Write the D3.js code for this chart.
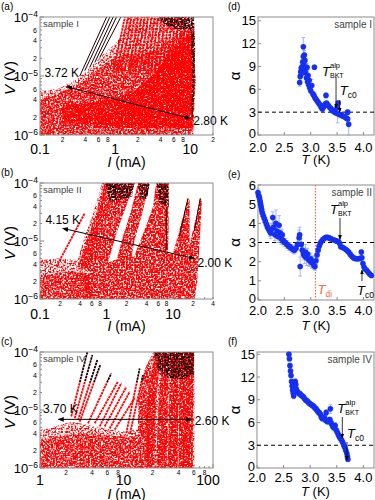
<!DOCTYPE html>
<html>
<head>
<meta charset="utf-8">
<script src="https://cdn.jsdelivr.net/npm/d3@7/dist/d3.min.js"></script>
<style>
body { margin: 0; background: #fff; }
svg { display: block; font-family: "Liberation Sans", Arial, sans-serif; }
</style>
</head>
<body>
<div id="chart"></div>
<script>
// ---------- I-V point clouds, outlines: [I (mA), V (V)] ----------

// (a) sample I
var aSparse = [[[0.1,1e-6],[0.1,5.6e-6],[0.17,6e-6],[0.29,8.3e-6],[0.44,1.3e-5],[0.66,2.2e-5],[0.99,3.5e-5],[1.28,5.2e-5],[1.42,1e-4],[10.9,1e-4],[11.8,8.3e-6],[10.9,1e-6]]];
var aMedium = [[[0.1,1e-6],[0.1,4e-6],[0.3,6.5e-6],[0.5,1.1e-5],[0.8,1.8e-5],[1.3,2.3e-5],[2.5,2.5e-5],[4,3e-5],[6,4.5e-5],[8,6e-5],[10.9,7e-5],[11.5,8e-6],[10.9,1e-6]]];
var aDense = [[[0.2,1.6e-6],[0.2,3.2e-6],[0.5,3.6e-6],[1.0,4.2e-6],[2.0,6e-6],[3.5,1.2e-5],[5,2.2e-5],[7,3.5e-5],[9,5e-5],[10.9,6e-5],[11.3,8e-6],[10.6,1.3e-6],[2,1.3e-6],[0.5,1.5e-6]]];
var aDark = [
  [[3.6,1e-4],[11.2,1e-4],[10.5,6.2e-5],[6.5,6.2e-5],[4.5,7.5e-5]],
  [[9.6,1e-4],[11.2,1e-4],[11.6,3e-5],[11.3,5e-6],[10.7,1.8e-6],[10.3,2.5e-6],[10.6,1e-5],[10.2,5e-5]]
];
// curves: [I start, V start, I end, V end]
var aBlack = [[0.338,1.0e-5,0.77,1e-4],[0.394,1.23e-5,0.85,1e-4],[0.459,1.4e-5,0.94,1e-4],[0.536,1.7e-5,1.04,1e-4],[0.625,2.07e-5,1.19,1e-4]];
var aRed = [[0.94,1.2e-5,1.35,1e-4],[1.05,1.2e-5,1.49,1e-4],[1.19,1.2e-5,1.65,1e-4],[1.33,1.2e-5,1.83,1e-4],[1.51,1.2e-5,2.03,1e-4],
  [1.69,1.2e-5,2.24,1e-4],[1.89,1.2e-5,2.49,1e-4],[2.13,1.2e-5,2.75,1e-4],[2.39,1.2e-5,3.05,1e-4],[2.7,1.2e-5,3.38,1e-4],
  [3.02,1.2e-5,3.74,1e-4],[3.38,1.2e-5,4.15,1e-4],[3.82,1.2e-5,4.6,1e-4],[4.27,1.2e-5,5.09,1e-4],[4.83,1.2e-5,5.63,1e-4],
  [5.41,1.2e-5,6.25,1e-4],[6.06,1.2e-5,6.92,1e-4],[6.85,1.2e-5,7.66,1e-4],[7.66,1.2e-5,8.5,1e-4]];
var aArrow = [[10,1.9e-6],[0.227,6.6e-6]];
var aTemps = ['2.80 K', '3.72 K'];

// (b) sample II
var bSparse = [
  [[0.1,1e-6],[0.1,4.7e-6],[0.187,5e-6],[0.373,4.7e-6],[0.527,4.1e-6],[0.6,1e-6]],
  [[0.33,3e-6],[0.47,1.2e-5],[0.64,3.2e-5],[0.86,1e-4],[1.1,1e-4],[0.8,2e-5],[0.6,4e-6]]
];
var bMedium = [
  [[0.1,1e-6],[0.1,2.5e-6],[0.3,3e-6],[0.5,2.8e-6],[0.6,1e-6]]
];
var bDense = [
  [[0.47,1e-6],[0.47,2.4e-6],[0.745,3.6e-6],[1.33,4.7e-6],[2.65,5.4e-6],[5.3,5.7e-6],[9.4,6.1e-6],[15,5.4e-6],[21.2,4.7e-6],[23.2,2.1e-6],[21.2,1e-6]],
  [[0.373,3.6e-6],[0.527,1.19e-5],[0.703,3e-5],[0.938,1e-4],[2.65,1e-4],[1.88,3.4e-5],[1.41,1.36e-5],[1.12,5.4e-6],[0.9,2.4e-6]],
  [[1.33,3.6e-6],[1.77,1.19e-5],[2.36,3.4e-5],[2.98,1e-4],[4.46,1e-4],[3.34,2.6e-5],[2.65,1.04e-5],[2.36,5e-6]],
  [[2.36,4.1e-6],[3.75,1.55e-5],[5.0,3.9e-5],[5.6,1e-4],[8.6,1e-4],[8.6,1.55e-5],[8.4,5.4e-6]],
  [[9.4,4.7e-6],[16.8,5.45e-5],[17.8,5.1e-5],[17.8,4.1e-6]],
  [[15,3.6e-6],[25.7,5.45e-5],[27.3,5e-5],[23.2,1.86e-6]]
];
var bDark = [
  [[0.938,1e-4],[2.65,1e-4],[2.42,5.8e-5],[1.12,4.8e-5]],
  [[2.98,1e-4],[4.46,1e-4],[4.11,5.45e-5],[3.27,5.1e-5]],
  [[5.7,1e-4],[8.6,1e-4],[8.6,3.9e-5],[6.3,4.5e-5]]
];
var bRed = [[0.176,3.6e-6,0.47,3e-5]];
var bBlack = [[7.94,3.9e-5,7.94,7e-6],[16.8,5.45e-5,12.5,1.2e-5],[25.7,5.45e-5,21,1.5e-5]];
var bArrow = [[21.1,5e-6],[0.22,1.65e-5]];
var bTemps = ['2.00 K', '4.15 K'];

// (c) sample IV
var cSparse = [[[1,1e-6],[1,4.5e-6],[1.48,5.2e-6],[2.3,6.3e-6],[3.59,5.5e-6],[8.7,4.2e-6],[13.6,4.6e-6],[13.6,1.49e-5],[16.2,4.9e-5],[20.3,1e-4],[61,1e-4],[61,1e-6]]];
var cMedium = [
  [[1,1e-6],[1,3e-6],[3,4e-6],[8,3.5e-6],[14,3.5e-6],[14,1e-6]],
  [[13.6,1e-6],[13.6,1.5e-5],[16.2,4.9e-5],[19,8e-5],[18,1e-6]]
];
var cDense = [
  [[17,1e-6],[17,1.2e-5],[21,1e-4],[25,1e-4],[22,1.5e-5],[21,1e-6]],
  [[22,1e-6],[23.5,1.5e-5],[26.5,1e-4],[31,1e-4],[29,1e-6]],
  [[30,1e-6],[32,1e-4],[40,1e-4],[39,1e-6]],
  [[40,1e-6],[41,1e-4],[60,1e-4],[58,1e-6]]
];
var cDark = [[[21,1e-4],[60,1e-4],[60,4e-5],[45,3.4e-5],[30,3.6e-5],[23,5e-5]]];
var cRed = [[2.3,7.7e-6,3.52,1e-4],[2.52,7.2e-6,4.03,8.9e-5],[2.75,6.7e-6,4.6,7.3e-5],[2.88,6.3e-6,4.98,6e-5],
  [3.59,5.9e-6,6.67,4.3e-5],[4.29,5.9e-6,7.97,3.1e-5],[4.9,5.2e-6,8.7,2.9e-5],[5.6,5.2e-6,9.95,2.5e-5],
  [6.4,4.8e-6,10.9,2.07e-5],[7.3,4.6e-6,12.4,1.6e-5],[9.95,4e-6,14.2,5.2e-5],[11,4e-6,15.5,4e-5]];
var cArrow = [[56.8,6.9e-6],[1.63,6.9e-6]];
var cTemps = ['2.60 K', '3.70 K'];

// tick labels of the log panels
var vMajor = [1e-6, 1e-5, 1e-4];
var vMinor = [2e-6, 4e-6, 6e-6, 2e-5, 4e-5, 6e-5];
var abMajorI = [0.1, 1, 10];
var abMajorText = ['0.1', '1', '10'];
var aMinorI = [0.2, 0.4, 0.6, 0.8, 2, 4, 6, 8, 20];
var bMinorI = [0.2, 0.4, 0.6, 0.8, 2, 4, 6, 8, 20, 40];
var cMajorI = [1, 10, 100];
var cMajorText = ['1', '10', '100'];
var cMinorI = [2, 4, 6, 8, 20, 40, 60, 80];

// ---------- alpha(T) ----------
var dT = [2.79,2.80,2.81,2.82,2.83,2.84,2.85,2.86,2.86,2.87, 2.88,2.88,2.89,2.90,2.91,2.92,2.93,2.94,2.95,2.96,
  2.97,2.98,3.00,3.02,3.04,3.06,3.07,3.08,3.10,3.12, 3.14,3.16,3.18,3.20,3.22,3.24,3.26,3.28,3.29,3.30,
  3.32,3.34,3.36,3.38,3.40,3.42,3.44,3.46,3.48,3.50, 3.51,3.52,3.54,3.56,3.58,3.60,3.62,3.64,3.66,3.68, 3.70,3.70,3.72];
var dAlpha = [6.9,7.7,8.3,8.8,8.1,9.0,9.6,11.6,10.3,9.2, 10.5,8.6,9.8,8.2,8.8,7.5,8.9,7.0,7.8,6.6,
  7.2,6.2,5.8,6.5,5.4,5.2,8.9,4.9,4.7,4.5, 4.3,4.1,3.9,3.6,3.4,3.6,3.9,4.1,5.2,4.2,
  4.0,3.8,3.6,3.5,3.3,3.2,3.1,3.0,2.9,3.6, 2.8,4.2,2.7,2.7,2.6,2.5,2.5,2.4,2.3,2.2, 3.0,2.1,1.4];
var dErr = [0.5,0.5,0.6,0.7,0.5,0.8,1.0,1.2,0.9,0.7, 0.6,0.6,0.5,0.5,0.6,0.6,0.5,0.5,0.8,0.4,
  0.6,0.4,0.3,0.8,0.3,0.3,0.3,0.3,0.2,0.2, 0.2,0.2,0.2,0.2,0.2,0.2,0.2,0.2,0.3,0.2,
  0.2,0.2,0.2,0.2,0.2,0.2,0.2,0.3,0.3,0.8, 1.2,0.3,0.2,0.2,0.2,0.2,0.2,0.2,0.2,0.2, 0.3,0.2,1.4];

var eT = [2.00,2.01,2.02,2.03,2.04,2.05,2.06,2.07,2.08,2.10, 2.12,2.14,2.16,2.18,2.20,2.22,2.24,2.26,2.28,2.30,
  2.32,2.34,2.36,2.38,2.40,2.42,2.44,2.46,2.48,2.50, 2.52,2.55,2.58,2.60,2.63,2.66,2.69,2.72,2.75,2.78,
  2.79,2.80,2.82,2.84,2.86,2.88,2.90,2.92,2.94,2.96, 2.98,3.00,3.02,3.04,3.06,3.08,3.10,3.12,3.14,3.16,
  3.18,3.20,3.23,3.26,3.29,3.32,3.35,3.38,3.41,3.44, 3.47,3.50,3.53,3.55,3.57,3.60,3.63,3.66,3.69,3.72,
  3.75,3.78,3.81,3.84,3.87,3.90,3.93,3.96,3.97,3.99, 4.01,4.03,4.06,4.09,4.12,4.15];
var eAlpha = [5.6,5.45,5.4,5.3,5.15,5.0,4.85,4.7,4.55,4.4, 4.25,4.1,3.95,3.8,3.7,3.6,3.5,3.7,4.3,3.8,
  3.4,4.0,3.6,3.3,3.9,3.5,3.2,3.4,3.1,3.0, 3.0,2.9,2.8,2.8,2.7,2.65,2.6,2.7,2.9,3.25,
  3.4,1.75,2.9,2.6,2.4,2.3,2.5,2.2,2.4,2.1, 2.05,2.15,1.95,2.0,1.8,1.75,2.05,2.35,2.6,2.8,
  2.95,3.05,3.15,3.22,3.27,3.27,3.24,3.2,3.16,3.13, 3.1,3.07,3.03,2.95,2.78,2.75,2.7,2.65,2.58,2.5,
  2.38,2.28,2.2,2.17,2.15,2.15,2.17,2.5,2.2,1.9, 1.72,1.62,1.55,1.45,1.35,1.28];
var eErr = [0.2,0.2,0.2,0.2,0.2,0.2,0.2,0.2,0.2,0.2, 0.2,0.2,0.2,0.2,0.2,0.3,0.3,0.3,0.3,0.4,
  0.3,0.7,0.4,0.3,0.5,0.4,0.3,0.3,0.2,0.2, 0.2,0.2,0.2,0.2,0.2,0.2,0.2,0.2,0.3,0.4,
  0.4,0.5,0.3,0.3,0.3,0.4,0.4,0.4,0.3,0.3, 0.3,0.3,0.3,0.3,0.2,0.2,0.2,0.2,0.2,0.2,
  0.1,0.1,0.1,0.1,0.1,0.1,0.1,0.1,0.1,0.1, 0.1,0.1,0.1,0.1,0.1,0.1,0.1,0.1,0.1,0.1,
  0.1,0.1,0.1,0.1,0.1,0.1,0.1,0.1,0.1,0.1, 0.1,0.1,0.1,0.1,0.1,0.1];

var fT = [2.60,2.61,2.62,2.63,2.64,2.65,2.66,2.67,2.68,2.69, 2.70,2.71,2.72,2.73,2.74,2.75,2.77,2.79,2.81,2.83,
  2.85,2.87,2.89,2.91,2.93,2.95,2.97,2.99,3.01,3.03, 3.05,3.07,3.09,3.11,3.13,3.15,3.17,3.19,3.21,3.23,
  3.25,3.27,3.29,3.30,3.31,3.33,3.35,3.37,3.38,3.39, 3.41,3.43,3.45,3.47,3.49,3.51,3.53,3.55,3.57,3.59,
  3.61,3.63,3.65,3.67,3.69,3.70,3.71];
var fAlpha = [15.0,14.4,13.5,12.8,12.2,11.4,10.8,10.3,9.9,9.5, 10.6,11.1,11.4,11.0,10.4,10.1,10.0,9.8,9.8,9.6,
  9.5,9.4,9.2,9.0,8.9,8.8,8.6,8.5,8.4,8.3, 8.2,8.1,7.9,7.8,7.6,7.4,7.3,7.1,6.7,6.5,
  6.7,6.6,6.3,7.3,6.2,6.1,6.3,6.4,7.8,6.0, 5.7,5.4,5.3,5.6,5.0,4.7,4.4,4.1,3.9,3.7,
  3.4,3.05,2.7,2.3,1.9,1.5,1.15];
var fErr = [0.3,0.3,0.3,0.3,0.3,0.3,0.3,0.3,0.3,0.3, 0.4,0.4,0.4,0.4,0.3,0.3,0.3,0.3,0.3,0.3,
  0.3,0.3,0.3,0.3,0.3,0.3,0.3,0.3,0.3,0.3, 0.3,0.3,0.3,0.3,0.3,0.3,0.3,0.3,0.3,0.3,
  0.3,0.3,0.3,0.4,0.3,0.3,0.3,0.3,0.6,0.4, 0.4,0.4,0.4,0.4,0.4,0.4,0.4,0.4,0.3,0.3,
  0.3,0.3,0.3,0.3,0.3,0.3,0.3];

// marker arrows: [T, alpha at tail, alpha at head]
var dBkt = [3.48, 7.6, 3.55], dTc0 = [3.55, 4.6, 3.0];
var eBkt = [3.555, 4.28, 3.16], eTc0 = [3.972, 0.99, 1.56], eTdi = 3.09;
var fBkt = [3.604, 6.73, 3.96], fTc0 = [3.692, 3.43, 1.06];

var tTicks = [2.0, 2.5, 3.0, 3.5, 4.0];
var dTicks = [0, 3, 6, 9, 12, 15];
var eTicks = [0, 1, 2, 3, 4, 5, 6];

// ---------- drawing ----------
var RED = '#ff0000', DARK = '#1e0000', BLUE = '#1530f2', BAR = '#95a2ff', FRAME = '#8c8c8c';

var svg = d3.select('#chart').append('svg').attr('width', 375).attr('height', 500);
var defs = svg.append('defs');

// soft noise speckle so the filled regions read as clouds of points
function speckle(id, meanAlpha, seed) {
  var f = defs.append('filter').attr('id', id).attr('color-interpolation-filters', 'sRGB')
    .attr('x', '0%').attr('y', '0%').attr('width', '100%').attr('height', '100%');
  f.append('feTurbulence').attr('type', 'fractalNoise').attr('baseFrequency', 0.6)
    .attr('numOctaves', 1).attr('seed', seed).attr('result', 'noise');
  f.append('feColorMatrix').attr('in', 'noise').attr('type', 'matrix')
    .attr('values', '0 0 0 0 0  0 0 0 0 0  0 0 0 0 0  5 0 0 0 ' + (meanAlpha - 2.5))
    .attr('result', 'mask');
  f.append('feComposite').attr('in', 'SourceGraphic').attr('in2', 'mask').attr('operator', 'in');
}
speckle('sp-sparse', 0.3, 2);
speckle('sp-medium', 0.55, 5);
speckle('sp-dense', 0.85, 8);
speckle('sp-dark', 0.65, 11);

defs.append('marker').attr('id', 'head').attr('viewBox', '0 0 10 10')
  .attr('refX', 9).attr('refY', 5).attr('markerWidth', 6).attr('markerHeight', 6)
  .attr('orient', 'auto-start-reverse')
  .append('path').attr('d', 'M0,1 L10,5 L0,9 Z').attr('fill', '#000');

function mantissa(v) {
  return String(Math.round(v / Math.pow(10, Math.floor(Math.log10(v) + 1e-9))));
}
function isDecade(v) {
  var l = Math.log10(v);
  return Math.abs(l - Math.round(l)) < 1e-6;
}

function ivPanel(p) {
  var L = p.box[0], R = p.box[1], T = p.box[2], B = p.box[3];
  var x = d3.scaleLog().domain(p.xDomain).range([L, R]);
  var y = d3.scaleLog().domain([1e-6, 1e-4]).range([B, T]);
  var g = svg.append('g');

  defs.append('clipPath').attr('id', 'clip-' + p.id).append('rect')
    .attr('x', L).attr('y', T).attr('width', R - L).attr('height', B - T);
  var body = g.append('g').attr('clip-path', 'url(#clip-' + p.id + ')');
  var outline = d3.line().x(function (d) { return x(d[0]); }).y(function (d) { return y(d[1]); });

  function fillLayer(polys, filt, color) {
    body.append('g').attr('filter', 'url(#' + filt + ')').selectAll('path').data(polys).join('path')
      .attr('d', function (d) { return outline(d) + 'Z'; })
      .attr('fill', color);
  }
  fillLayer(p.sparse, 'sp-sparse', RED);
  fillLayer(p.medium, 'sp-medium', RED);
  fillLayer(p.dense, 'sp-dense', RED);

  var grad = defs.append('linearGradient').attr('id', 'grad-' + p.id)
    .attr('gradientUnits', 'userSpaceOnUse').attr('x1', 0).attr('x2', 0).attr('y1', T).attr('y2', B);
  var cut = (y(p.darkAbove) - T) / (B - T);
  [[0, DARK], [cut, DARK], [cut, RED], [1, RED]].forEach(function (s) {
    grad.append('stop').attr('offset', s[0]).attr('stop-color', s[1]);
  });

  function curves(segs, stroke, w, dash) {
    body.append('g').selectAll('line').data(segs).join('line')
      .attr('x1', function (d) { return x(d[0]); }).attr('y1', function (d) { return y(d[1]); })
      .attr('x2', function (d) { return x(d[2]); }).attr('y2', function (d) { return y(d[3]); })
      .attr('stroke', stroke).attr('stroke-width', w).attr('stroke-dasharray', dash);
  }
  curves(p.red, 'url(#grad-' + p.id + ')', 1.8, '2.5 0.7');
  fillLayer(p.dark, 'sp-dark', DARK);
  curves(p.black, DARK, 1, null);

  // frame and inside ticks
  g.append('rect').attr('x', L).attr('y', T).attr('width', R - L).attr('height', B - T)
    .attr('fill', 'none').attr('stroke', FRAME).attr('stroke-width', 1);
  g.append('g').selectAll('line').data(y.ticks()).join('line')
    .attr('x1', L).attr('x2', function (d) { return L + (isDecade(d) ? 4 : 2); })
    .attr('y1', function (d) { return y(d); }).attr('y2', function (d) { return y(d); })
    .attr('stroke', FRAME);
  g.append('g').selectAll('line').data(x.ticks()).join('line')
    .attr('x1', function (d) { return x(d); }).attr('x2', function (d) { return x(d); })
    .attr('y1', B).attr('y2', function (d) { return B - (isDecade(d) ? 4 : 2); })
    .attr('stroke', FRAME);

  // y labels
  vMajor.forEach(function (v) {
    var t = g.append('text').attr('x', L - 2).attr('y', y(v) + 4.5).attr('text-anchor', 'end')
      .attr('font-size', 13);
    t.append('tspan').text('10');
    t.append('tspan').attr('dy', -5).attr('font-size', 8.5).text('\u2212' + Math.round(-Math.log10(v)));
  });
  g.append('g').selectAll('text').data(vMinor).join('text')
    .attr('x', L - 3).attr('y', function (d) { return y(d) + 2.5; }).attr('text-anchor', 'end')
    .attr('font-size', 7).text(mantissa);

  // x labels
  g.append('g').selectAll('text').data(p.xMinor).join('text')
    .attr('x', function (d) { return x(d); }).attr('y', B + 6.5).attr('text-anchor', 'middle')
    .attr('font-size', 6.5).text(mantissa);
  g.append('g').selectAll('text').data(p.xMajor).join('text')
    .attr('x', function (d, i) { return x(d) + p.majorShift[i]; }).attr('y', B + p.majorOff)
    .attr('text-anchor', 'middle').attr('font-size', 14).text(function (d, i) { return p.xMajorText[i]; });

  var xt = g.append('text').attr('x', (L + R) / 2).attr('y', B + p.titleOff).attr('text-anchor', 'middle')
    .attr('font-size', 14);
  xt.append('tspan').attr('font-style', 'italic').text('I');
  xt.append('tspan').text(' (mA)');
  var yt = g.append('text').attr('transform', 'translate(15,' + ((T + B) / 2 + 2) + ') rotate(-90)')
    .attr('text-anchor', 'middle').attr('font-size', 15);
  yt.append('tspan').attr('font-style', 'italic').text('V');
  yt.append('tspan').text(' (V)');

  g.append('text').attr('x', 1).attr('y', T - 7).attr('font-size', 10).text(p.letter);
  g.append('text').attr('x', L + 3).attr('y', T + 10).attr('font-size', 9.5).attr('fill', '#444').text(p.sample);

  // temperature arrow
  var a0 = [x(p.arrow[0][0]), y(p.arrow[0][1])], a1 = [x(p.arrow[1][0]), y(p.arrow[1][1])];
  g.append('line').attr('x1', a0[0]).attr('y1', a0[1]).attr('x2', a1[0]).attr('y2', a1[1])
    .attr('stroke', '#000').attr('stroke-width', 1)
    .attr('marker-start', 'url(#head)').attr('marker-end', 'url(#head)');
  g.append('text').attr('x', a0[0] + 3).attr('y', a0[1] + p.tOff[0]).attr('font-size', 12).text(p.temps[0]);
  g.append('text').attr('x', a1[0] + p.tOff[1]).attr('y', a1[1] + p.tOff[2]).attr('text-anchor', 'middle')
    .attr('font-size', 12).text(p.temps[1]);
}

ivPanel({ id: 'a', letter: '(a)', sample: 'sample I', xDomain: [0.1, 20], box: [40, 213, 17, 135],
  sparse: aSparse, medium: aMedium, dense: aDense, dark: aDark, red: aRed, black: aBlack, darkAbove: 1e-4,
  xMajor: abMajorI, xMajorText: abMajorText, majorShift: [0, 0, 0], xMinor: aMinorI, majorOff: 19, titleOff: 32,
  arrow: aArrow, temps: aTemps, tOff: [6, -5, -10] });
ivPanel({ id: 'b', letter: '(b)', sample: 'sample II', xDomain: [0.1, 40], box: [40, 213, 183, 299],
  sparse: bSparse, medium: bMedium, dense: bDense, dark: bDark, red: bRed, black: bBlack, darkAbove: 1e-4,
  xMajor: abMajorI, xMajorText: abMajorText, majorShift: [0, 0, 0], xMinor: bMinorI, majorOff: 19.5, titleOff: 32,
  arrow: bArrow, temps: bTemps, tOff: [9, 0, -4] });
ivPanel({ id: 'c', letter: '(c)', sample: 'sample IV', xDomain: [1, 100], box: [40, 213, 352, 468],
  sparse: cSparse, medium: cMedium, dense: cDense, dark: cDark, red: cRed, black: [], darkAbove: 3e-5,
  xMajor: cMajorI, xMajorText: cMajorText, majorShift: [0, -3, -5], xMinor: cMinorI, majorOff: 17, titleOff: 30.5,
  arrow: cArrow, temps: cTemps, tOff: [6, 2, -6] });

function tLabel(g, x, y, sub, sup, color) {
  g.append('text').attr('x', x).attr('y', y).attr('font-size', 13).attr('font-style', 'italic')
    .attr('fill', color).text('T');
  if (sup) g.append('text').attr('x', x + 8).attr('y', y - 8).attr('font-size', 7.5).attr('fill', color).text(sup);
  g.append('text').attr('x', x + 8).attr('y', y + (sup ? 2 : 3)).attr('font-size', sup ? 7 : 8.5)
    .attr('fill', color).text(sub);
}

function alphaPanel(p) {
  var L = p.box[0], R = p.box[1], T = p.box[2], B = p.box[3];
  var x = d3.scaleLinear().domain([2.0, 4.2]).range([L, R]);
  var y = d3.scaleLinear().domain(p.yDomain).range([B, T]);
  var g = svg.append('g');

  g.append('g').selectAll('line').data(tTicks).join('line')
    .attr('x1', function (d) { return x(d); }).attr('x2', function (d) { return x(d); })
    .attr('y1', B).attr('y2', B - 3).attr('stroke', FRAME);
  g.append('g').selectAll('line').data(p.yTicks).join('line')
    .attr('x1', L).attr('x2', L + 3)
    .attr('y1', function (d) { return y(d); }).attr('y2', function (d) { return y(d); }).attr('stroke', FRAME);
  g.append('rect').attr('x', L).attr('y', T).attr('width', R - L).attr('height', B - T)
    .attr('fill', 'none').attr('stroke', FRAME);

  g.append('g').selectAll('text').data(p.yTicks).join('text')
    .attr('x', L - 2).attr('y', function (d) { return y(d) + (d === 0 ? 2.5 : 4.5); }).attr('text-anchor', 'end')
    .attr('font-size', 13).text(function (d) { return d; });
  g.append('g').selectAll('text').data(tTicks).join('text')
    .attr('x', function (d) { return x(d); }).attr('y', B + p.tickOff).attr('text-anchor', 'middle')
    .attr('font-size', 13).text(d3.format('.1f'));
  var xt = g.append('text').attr('x', (L + R) / 2).attr('y', B + p.titleOff).attr('text-anchor', 'middle')
    .attr('font-size', 13);
  xt.append('tspan').attr('font-style', 'italic').text('T');
  xt.append('tspan').text(' (K)');
  g.append('text').attr('transform', 'translate(240,' + ((T + B) / 2) + ') rotate(-90)')
    .attr('text-anchor', 'middle').attr('font-size', 15).text('\u03b1');
  g.append('text').attr('x', 228).attr('y', T - 7).attr('font-size', 10).text(p.letter);
  g.append('text').attr('x', R - 2).attr('y', T + 11).attr('text-anchor', 'end')
    .attr('font-size', 10).attr('fill', '#444').text(p.sample);

  if (p.tdi) {
    g.append('line').attr('x1', x(p.tdi)).attr('x2', x(p.tdi)).attr('y1', T).attr('y2', B)
      .attr('stroke', '#f26d3d').attr('stroke-width', 1.2).attr('stroke-dasharray', '1.5 1.5');
    tLabel(g, x(p.tdi) + 2, B - 6, 'di', null, '#f26d3d');
  }

  g.append('line').attr('x1', L).attr('x2', R).attr('y1', y(3)).attr('y2', y(3))
    .attr('stroke', '#000').attr('stroke-width', 1).attr('stroke-dasharray', '4 3');

  var pts = p.T.map(function (t, i) { return { t: t, a: p.alpha[i], e: p.err[i] }; });
  var bars = g.append('g').attr('stroke', BAR).attr('stroke-width', 0.8);
  bars.selectAll('line.v').data(pts).join('line').attr('class', 'v')
    .attr('x1', function (d) { return x(d.t); }).attr('x2', function (d) { return x(d.t); })
    .attr('y1', function (d) { return y(Math.max(0, d.a - d.e)); }).attr('y2', function (d) { return y(d.a + d.e); });
  bars.selectAll('line.c').data(pts.concat(pts)).join('line').attr('class', 'c')
    .attr('x1', function (d) { return x(d.t) - 1.8; }).attr('x2', function (d) { return x(d.t) + 1.8; })
    .attr('y1', function (d, i) { return y(i < pts.length ? Math.max(0, d.a - d.e) : d.a + d.e); })
    .attr('y2', function (d, i) { return y(i < pts.length ? Math.max(0, d.a - d.e) : d.a + d.e); });
  g.append('g').selectAll('circle').data(pts).join('circle')
    .attr('cx', function (d) { return x(d.t); }).attr('cy', function (d) { return y(d.a); })
    .attr('r', 2.8).attr('fill', BLUE);

  function mark(m) {
    g.append('line').attr('x1', x(m[0])).attr('x2', x(m[0])).attr('y1', y(m[1])).attr('y2', y(m[2]))
      .attr('stroke', '#000').attr('stroke-width', 0.8).attr('marker-end', 'url(#head)');
  }
  mark(p.bkt); mark(p.tc0);
  tLabel(g, x(p.bkt[0]) + p.bktOff[0], y(p.bkt[1]) + p.bktOff[1], 'BKT', 'alp', '#000');
  tLabel(g, x(p.tc0[0]) + p.c0Off[0], y(p.tc0[1]) + p.c0Off[1], 'c0', null, '#000');
}

alphaPanel({ letter: '(d)', sample: 'sample I', box: [258, 374, 17, 135], yDomain: [0, 15.5], yTicks: dTicks,
  T: dT, alpha: dAlpha, err: dErr, bkt: dBkt, tc0: dTc0, bktOff: [-14, -1], c0Off: [0, -5],
  tickOff: 16.5, titleOff: 29 });
alphaPanel({ letter: '(e)', sample: 'sample II', box: [258, 374, 185, 300], yDomain: [0, 6], yTicks: eTicks,
  T: eT, alpha: eAlpha, err: eErr, bkt: eBkt, tc0: eTc0, tdi: eTdi, bktOff: [-10, -4], c0Off: [-5, 14],
  tickOff: 14.5, titleOff: 29.5 });
alphaPanel({ letter: '(f)', sample: 'sample IV', box: [257, 374, 352, 468], yDomain: [0, 15.3], yTicks: dTicks,
  T: fT, alpha: fAlpha, err: fErr, bkt: fBkt, tc0: fTc0, bktOff: [-5, -4], c0Off: [0, -4],
  tickOff: 14, titleOff: 28 });
</script>
</body>
</html>
